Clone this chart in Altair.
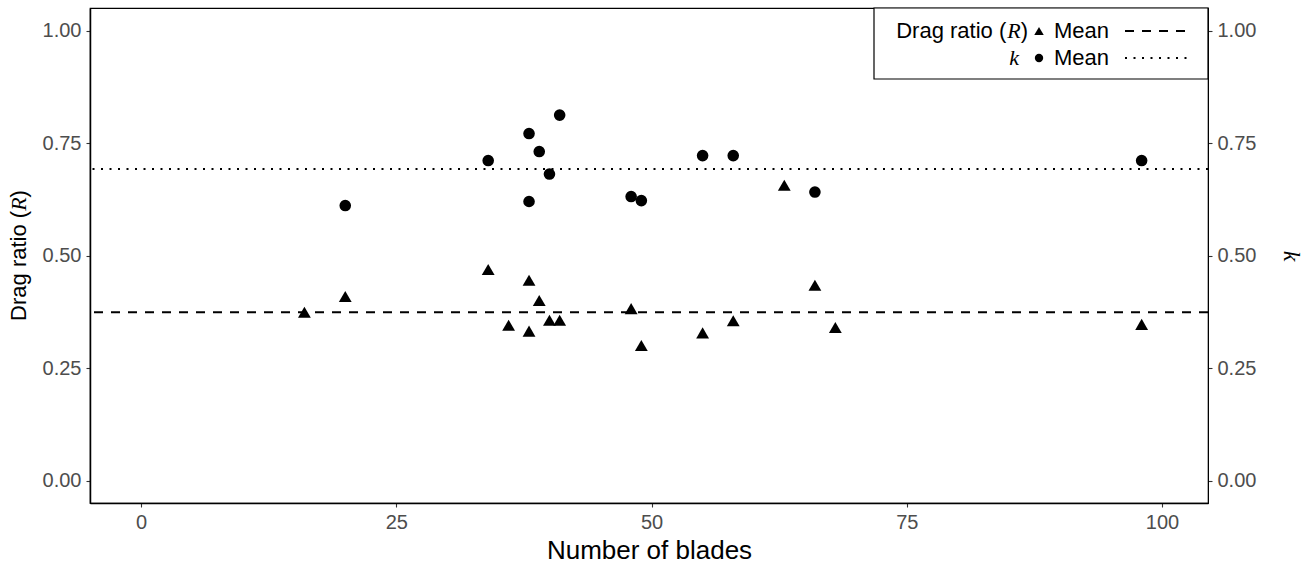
import altair as alt
import pandas as pd

# ---- data ----
blades_R = [16, 20, 34, 36, 38, 38, 39, 40, 41, 48, 49, 55, 58, 63, 66, 68, 98]
drag_R = [0.374, 0.409, 0.469, 0.345, 0.445, 0.332, 0.400, 0.356, 0.356,
          0.382, 0.300, 0.328, 0.355, 0.656, 0.434, 0.340, 0.347]
blades_k = [20, 34, 38, 38, 39, 40, 41, 48, 49, 55, 58, 66, 98]
k_vals = [0.611, 0.711, 0.771, 0.620, 0.731, 0.681, 0.812, 0.631, 0.622,
          0.722, 0.722, 0.641, 0.711]
mean_R = [0.374]
mean_k = [0.692]
x_ticks = [0, 25, 50, 75, 100]
y_ticks = [0, 0.25, 0.5, 0.75, 1.0]
x_title = "Number of blades"
y_title_parts = ["Drag ratio (", "R", ")"]
k_title = "k"
legend_mean = "Mean"

W, H = 1118, 495
SANS = "Liberation Sans"
SERIF = "Liberation Serif"
TICK_FS = 20
YT_FS = 22
XT_FS = 26
LEG_FS = 22

df_R = pd.DataFrame({"blades": blades_R, "R": drag_R})
df_k = pd.DataFrame({"blades": blades_k, "k": k_vals})
df_mR = pd.DataFrame({"m": mean_R})
df_mk = pd.DataFrame({"m": mean_k})
one = pd.DataFrame({"d": [0]})

xscale = alt.Scale(domain=[-5, 104.5], nice=False, zero=False)
yscale = alt.Scale(domain=[-0.05, 1.05], nice=False, zero=False)

axis_common = dict(
    values=y_ticks, format=".2f", labelFont=SANS, labelFontSize=TICK_FS,
    labelColor="#4D4D4D", tickColor="#333333", tickSize=4, tickWidth=1.1,
    domainColor="black", grid=False, labelPadding=5,
)

x_axis = alt.Axis(
    values=x_ticks, format="d", title=x_title, titleFont=SANS,
    titleFontSize=XT_FS, titleFontWeight="normal", titleColor="black",
    titleY=47, titleBaseline="middle",
    labelFont=SANS, labelFontSize=TICK_FS, labelColor="#4D4D4D",
    tickColor="#333333", tickSize=4, tickWidth=1.1, domainColor="black",
    domainWidth=1.5, grid=False, labelPadding=5,
)
left_axis = alt.Axis(title=None, domainWidth=1.5, **axis_common)
right_axis = alt.Axis(
    orient="right", title=k_title, titleFont=SERIF, titleFontStyle="italic",
    titleFontSize=24, titleFontWeight="normal", titleColor="black",
    titleAngle=90, titleX=82, titleY=H / 2, titleBaseline="middle",
    titleAlign="center", domainWidth=1, **axis_common)

tri = alt.Chart(df_R).mark_point(
    shape="triangle-up", filled=True, size=165, color="black", opacity=1
).encode(
    x=alt.X("blades:Q", scale=xscale, axis=x_axis),
    y=alt.Y("R:Q", scale=yscale, axis=left_axis),
)

rule_R = alt.Chart(df_mR).mark_rule(
    color="black", strokeWidth=2, strokeDash=[9, 8]
).encode(y=alt.Y("m:Q", scale=yscale, axis=left_axis))

circ = alt.Chart(df_k).mark_point(
    shape="circle", filled=True, size=135, color="black", opacity=1
).encode(
    x=alt.X("blades:Q", scale=xscale, axis=x_axis),
    y=alt.Y("k:Q", scale=yscale, axis=right_axis),
)

rule_k = alt.Chart(df_mk).mark_rule(
    color="black", strokeWidth=2, strokeDash=[2, 6.5]
).encode(y=alt.Y("m:Q", scale=yscale, axis=right_axis))

# ---- rotated left axis title with italic R ----
w1 = 5.001 * YT_FS
wR = 0.611 * YT_FS
yt_center = H / 2
yt_start = yt_center + (w1 + wR + 0.333 * YT_FS) / 2
yt_x = -71

def ytext(txt, ypos, font, style="normal"):
    return alt.Chart(one).mark_text(
        text=txt, angle=270, align="left", baseline="middle", font=font,
        fontStyle=style, fontSize=YT_FS, color="black"
    ).encode(x=alt.value(yt_x), y=alt.value(ypos))

ytitle = [
    ytext(y_title_parts[0], yt_start, SANS),
    ytext(y_title_parts[1], yt_start - w1, SERIF, "italic"),
    ytext(y_title_parts[2], yt_start - w1 - wR, SANS),
]

# ---- custom legend (top-right, inside panel) ----
LX0, LX1, LY0, LY1 = 784, W, 0, 71
row1, row2 = 23, 50
box = alt.Chart(one).mark_rect(
    fill="white", stroke="black", strokeWidth=1.2
).encode(x=alt.value(LX0), x2=alt.value(LX1), y=alt.value(LY0), y2=alt.value(LY1))

def ltext(txt, x, y, font=SANS, style="normal", align="right"):
    return alt.Chart(one).mark_text(
        text=txt, align=align, baseline="middle", font=font, fontStyle=style,
        fontSize=LEG_FS, color="black"
    ).encode(x=alt.value(x), y=alt.value(y))

paren_w = 0.333 * LEG_FS
R_w = 0.611 * LEG_FS
leg = [
    box,
    ltext(y_title_parts[2], 938, row1),
    ltext(y_title_parts[1], 938 - paren_w, row1, SERIF, "italic"),
    ltext(y_title_parts[0], 938 - paren_w - R_w - 1, row1),
    ltext(k_title, 929, row2, SERIF, "italic"),
    alt.Chart(one).mark_point(shape="triangle-up", filled=True, size=90,
                              color="black", opacity=1).encode(
        x=alt.value(949), y=alt.value(row1)),
    alt.Chart(one).mark_point(shape="circle", filled=True, size=70,
                              color="black", opacity=1).encode(
        x=alt.value(949), y=alt.value(row2)),
    ltext(legend_mean, 964, row1, align="left"),
    ltext(legend_mean, 964, row2, align="left"),
    alt.Chart(one).mark_rule(color="black", strokeWidth=2, strokeDash=[9, 8]).encode(
        x=alt.value(1035), x2=alt.value(1098), y=alt.value(row1)),
    alt.Chart(one).mark_rule(color="black", strokeWidth=2, strokeDash=[2, 6.5]).encode(
        x=alt.value(1035), x2=alt.value(1098), y=alt.value(row2)),
]

left = alt.layer(tri, rule_R, *ytitle)
right = alt.layer(circ, rule_k, *leg)

chart = alt.layer(left, right).resolve_scale(y="independent").properties(
    width=W, height=H,
    autosize=alt.AutoSizeParams(type="none"),
    padding={"left": 90, "top": 8, "right": 96, "bottom": 63},
    background="white",
).configure_view(stroke="black", strokeWidth=1.2)

chart.save("out.html", embed_options={"renderer": "svg", "actions": False})
